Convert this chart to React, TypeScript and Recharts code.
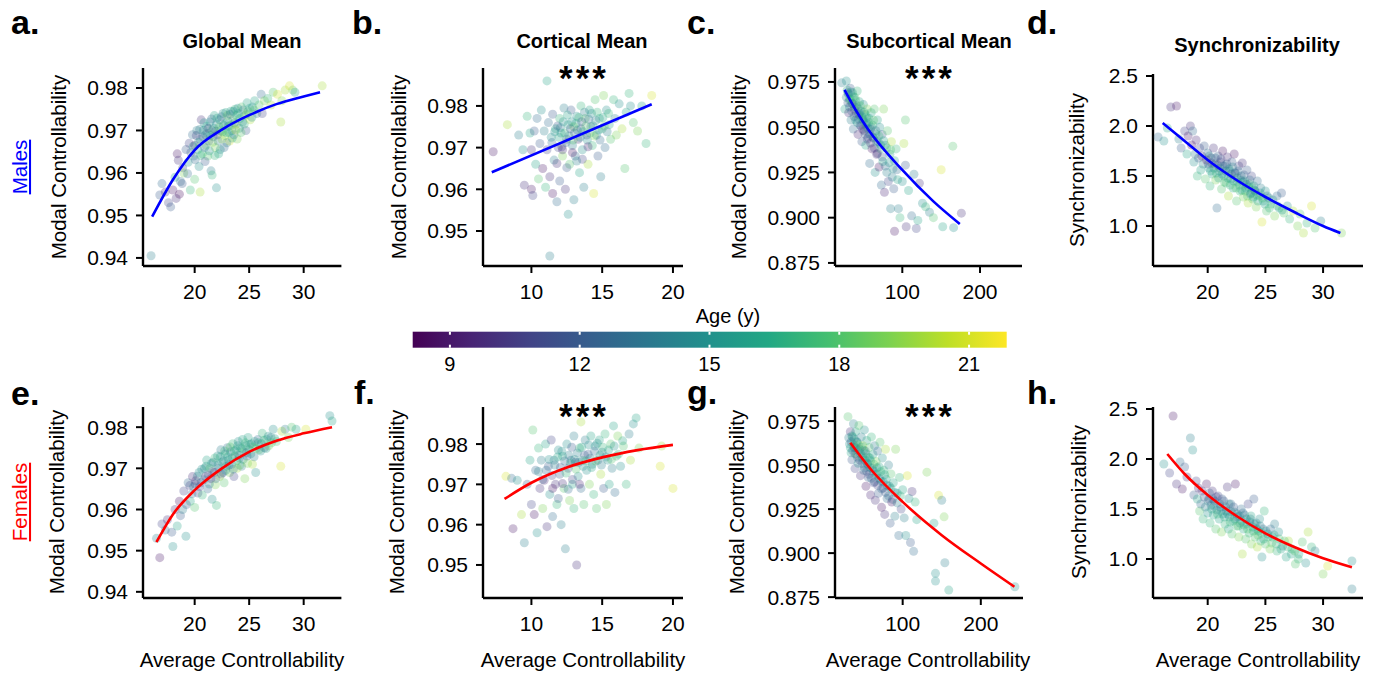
import { ComposedChart, Scatter, XAxis, YAxis } from "recharts";

// [averageControllability, value, age]
type Pt = [number, number, number];
type FitPt = [number, number];

const VIRIDIS = ["#440154", "#482475", "#414487", "#355f8d", "#2a788e", "#21918c", "#22a884", "#44bf70", "#7ad151", "#bddf26", "#fde725"];
const AGE_MIN = 8.14;
const AGE_MAX = 21.87;
const AGE_TICKS = [9, 12, 15, 18, 21];

const FONT = "'Liberation Sans', Arial, Helvetica, sans-serif";

// ---------- Males ----------
const malesGlobal: Pt[] = [
  [16.0, 0.9405, 14], [16.8, 0.9548, 12], [17.0, 0.9575, 13], [17.3, 0.9555, 10], [17.6, 0.953, 11], [17.8, 0.952, 12],
  [18.0, 0.956, 9], [18.2, 0.959, 16], [18.3, 0.954, 10], [18.4, 0.9645, 9], [18.5, 0.963, 10], [18.7, 0.958, 13],
  [18.9, 0.9612, 11], [19.0, 0.96, 19], [18.6, 0.955, 8.5], [19.2, 0.9655, 12], [19.4, 0.9625, 15], [19.5, 0.967, 11],
  [19.6, 0.956, 17], [19.8, 0.969, 13], [19.9, 0.964, 14], [20.0, 0.9665, 9.5], [20.0, 0.9585, 18], [20.2, 0.97, 14],
  [20.3, 0.9655, 16], [20.4, 0.9615, 15], [20.5, 0.968, 12], [20.6, 0.9725, 10], [20.7, 0.9645, 17], [20.8, 0.97, 15],
  [20.9, 0.966, 13], [20.5, 0.9555, 20], [21.0, 0.969, 14], [21.1, 0.971, 16], [21.2, 0.964, 18], [21.3, 0.9675, 12],
  [21.4, 0.972, 15], [21.5, 0.9605, 14], [21.6, 0.97, 17], [21.7, 0.9685, 13], [21.8, 0.9735, 16], [21.9, 0.966, 19],
  [22.0, 0.9715, 15], [22.1, 0.969, 11], [22.2, 0.9645, 16], [22.3, 0.9725, 14], [22.4, 0.97, 18], [22.5, 0.968, 20],
  [22.6, 0.974, 15], [22.7, 0.966, 13], [22.8, 0.9715, 17], [22.9, 0.9695, 16], [22.0, 0.9565, 15], [21.6, 0.9595, 17],
  [23.0, 0.9735, 19], [23.1, 0.971, 14], [23.2, 0.9675, 21], [23.3, 0.9745, 16], [23.4, 0.97, 15], [23.5, 0.9725, 18],
  [23.6, 0.969, 13], [23.7, 0.975, 17], [23.8, 0.9715, 20], [23.9, 0.968, 19], [24.0, 0.974, 16], [24.1, 0.9705, 15],
  [24.3, 0.9755, 18], [24.4, 0.972, 14], [24.6, 0.9735, 17], [24.7, 0.97, 12], [24.8, 0.9765, 16], [24.9, 0.9745, 18],
  [25.1, 0.9725, 20], [25.3, 0.9755, 15], [25.5, 0.977, 16], [25.7, 0.974, 14], [25.9, 0.976, 18], [26.1, 0.9785, 13],
  [26.2, 0.974, 11], [26.4, 0.977, 19], [26.7, 0.9775, 17], [27.0, 0.976, 20], [27.2, 0.979, 18], [27.6, 0.9785, 21],
  [27.9, 0.972, 20], [28.0, 0.977, 19], [28.3, 0.9795, 20], [28.7, 0.9805, 21], [29.0, 0.9795, 19], [29.2, 0.979, 16],
  [31.7, 0.9805, 20],
];
const malesGlobalCore: Pt[] = [
  [19.65, 0.9648, 12], [19.85, 0.9662, 15], [20.05, 0.9631, 13], [20.15, 0.9688, 11], [20.35, 0.9672, 16], [20.45, 0.9702, 14],
  [20.55, 0.9641, 17], [20.75, 0.9685, 13], [20.85, 0.9718, 15], [20.95, 0.9627, 12], [21.05, 0.9665, 18], [21.15, 0.9693, 14],
  [21.25, 0.9705, 11], [21.35, 0.9652, 15], [21.45, 0.9688, 16], [21.55, 0.9727, 13], [21.65, 0.9672, 19], [21.75, 0.9705, 15],
  [21.85, 0.9641, 17], [21.95, 0.9698, 12], [22.05, 0.9729, 16], [22.15, 0.9675, 14], [22.25, 0.9708, 18], [22.35, 0.9655, 15],
  [22.45, 0.9732, 13], [22.55, 0.9697, 17], [22.65, 0.9712, 15], [22.75, 0.9688, 19], [22.85, 0.9742, 16], [22.95, 0.9671, 14],
  [23.05, 0.9722, 15], [23.15, 0.9695, 17], [23.25, 0.9738, 13], [23.35, 0.9712, 18], [23.45, 0.9682, 16], [23.55, 0.9745, 15],
  [23.65, 0.9718, 14], [23.75, 0.9701, 20], [23.85, 0.9735, 17], [23.95, 0.9752, 15], [24.15, 0.9728, 16], [24.25, 0.9695, 18],
  [24.45, 0.9748, 14], [24.55, 0.9715, 17], [24.75, 0.9738, 19], [25.05, 0.9752, 16], [25.25, 0.9731, 15], [25.45, 0.9748, 18],
  [19.35, 0.9598, 13], [18.85, 0.9575, 12],
];
const malesGlobalFit: FitPt[] = [[16.1, 0.9497], [18, 0.9584], [20, 0.9654], [22.5, 0.9702], [25, 0.9736], [27.5, 0.9762], [30, 0.978], [31.5, 0.979]];

const malesCortical: Pt[] = [
  [7.3, 0.969, 9], [8.3, 0.9755, 20], [9.1, 0.973, 14], [9.4, 0.9695, 15], [9.5, 0.961, 10], [9.7, 0.9775, 17], [9.9, 0.9735, 16],
  [10.0, 0.96, 9], [10.0, 0.9695, 10], [10.1, 0.9585, 11], [10.2, 0.974, 12], [10.3, 0.966, 16], [10.4, 0.977, 13], [10.5, 0.9625, 18],
  [10.6, 0.971, 12], [10.7, 0.979, 15], [10.8, 0.965, 9], [10.9, 0.974, 14], [11.0, 0.9605, 17], [11.1, 0.986, 16], [11.1, 0.9695, 11],
  [11.2, 0.976, 13], [11.3, 0.944, 14], [11.3, 0.963, 10], [11.4, 0.9725, 15], [11.5, 0.959, 9], [11.5, 0.978, 12], [11.6, 0.967, 14],
  [11.7, 0.9745, 16], [11.8, 0.957, 13], [11.9, 0.97, 11], [12.0, 0.977, 17], [12.0, 0.962, 12], [12.1, 0.9735, 15], [12.2, 0.968, 19],
  [12.3, 0.9795, 14], [12.4, 0.96, 10], [12.5, 0.972, 13], [12.6, 0.954, 15], [12.6, 0.9755, 16], [12.7, 0.966, 18], [12.8, 0.979, 12],
  [12.9, 0.9705, 14], [13.0, 0.975, 19], [13.0, 0.9575, 14], [13.1, 0.968, 13], [13.2, 0.9775, 15], [13.3, 0.972, 10], [13.4, 0.964, 16],
  [13.5, 0.98, 17], [13.5, 0.9745, 12], [13.6, 0.9695, 15], [13.7, 0.9605, 14], [13.8, 0.977, 18], [13.9, 0.973, 11], [14.0, 0.966, 20],
  [14.1, 0.979, 16], [14.2, 0.975, 13], [14.3, 0.9705, 17], [14.4, 0.959, 21], [14.5, 0.9815, 18], [14.6, 0.973, 15], [14.7, 0.968, 12],
  [14.8, 0.977, 16], [14.9, 0.963, 14], [15.0, 0.9745, 17], [15.1, 0.9825, 19], [15.2, 0.97, 13], [15.3, 0.979, 15], [15.5, 0.9755, 16],
  [15.6, 0.972, 18], [15.8, 0.9815, 17], [15.9, 0.977, 14], [16.0, 0.973, 19], [16.2, 0.9805, 15], [16.4, 0.9745, 20], [16.6, 0.965, 18],
  [16.7, 0.9785, 16], [16.9, 0.983, 17], [17.0, 0.98, 15], [17.2, 0.976, 18], [17.5, 0.974, 19], [17.8, 0.98, 16], [18.1, 0.971, 17],
  [18.5, 0.9825, 21],
];
const malesCorticalCore: Pt[] = [
  [11.45, 0.9712, 13], [11.65, 0.9738, 15], [11.85, 0.9752, 12], [11.95, 0.9725, 16], [12.05, 0.9748, 14], [12.15, 0.9702, 11],
  [12.25, 0.9762, 15], [12.35, 0.9735, 17], [12.45, 0.9712, 13], [12.55, 0.9778, 16], [12.65, 0.9728, 14], [12.75, 0.9745, 12],
  [12.85, 0.9762, 15], [12.95, 0.9718, 18], [13.05, 0.9735, 13], [13.15, 0.9758, 16], [13.25, 0.9742, 14], [13.35, 0.9772, 17],
  [13.45, 0.9725, 15], [13.55, 0.9762, 12], [13.65, 0.9738, 16], [13.75, 0.9785, 14], [13.85, 0.9752, 18], [13.95, 0.9718, 15],
  [14.05, 0.9768, 13], [14.15, 0.9735, 17], [14.25, 0.9782, 15], [14.35, 0.9752, 16], [14.45, 0.9728, 19], [14.55, 0.9765, 14],
  [14.65, 0.9785, 17], [14.75, 0.9742, 15], [14.85, 0.9718, 13], [15.05, 0.9772, 16], [15.15, 0.9752, 18], [15.35, 0.9738, 14],
  [15.45, 0.9782, 17], [12.2, 0.9695, 10], [12.9, 0.9688, 9], [13.6, 0.9672, 11], [11.8, 0.9662, 10], [12.5, 0.9652, 12],
  [13.2, 0.9668, 14], [14.0, 0.9702, 9.5],
];
const malesCorticalFit: FitPt[] = [[7.2, 0.9641], [18.5, 0.9804]];

const malesSubcortical: Pt[] = [
  [22, 0.9745, 14], [26, 0.96, 16], [28, 0.9755, 15], [30, 0.969, 13], [31, 0.958, 10], [32, 0.965, 17], [33, 0.9715, 12], [34, 0.954, 14],
  [35, 0.963, 9], [36, 0.969, 16], [37, 0.949, 13], [38, 0.96, 11], [39, 0.9665, 18], [40, 0.954, 15], [41, 0.962, 12], [42, 0.97, 17],
  [43, 0.946, 9.5], [44, 0.957, 14], [45, 0.964, 16], [46, 0.951, 11], [47, 0.959, 13], [48, 0.942, 12], [49, 0.9545, 17], [50, 0.9625, 15],
  [51, 0.948, 10], [52, 0.957, 18], [53, 0.94, 16], [54, 0.952, 14], [55, 0.96, 19], [56, 0.9445, 12], [57, 0.955, 15], [58, 0.93, 13],
  [59, 0.949, 11], [60, 0.958, 16], [61, 0.938, 9], [62, 0.951, 17], [63, 0.944, 14], [64, 0.96, 18], [65, 0.925, 15], [66, 0.948, 13],
  [67, 0.935, 10], [68, 0.954, 16], [69, 0.942, 14], [70, 0.928, 9], [71, 0.95, 15], [72, 0.938, 17], [73, 0.918, 13], [74, 0.946, 12],
  [75, 0.931, 16], [76, 0.96, 19], [77, 0.914, 9.5], [78, 0.94, 15], [80, 0.925, 14], [81, 0.948, 18], [82, 0.92, 11], [84, 0.935, 16],
  [85, 0.905, 14], [86, 0.942, 20], [88, 0.927, 15], [89, 0.916, 12], [90, 0.8925, 9], [92, 0.938, 17], [94, 0.921, 16], [95, 0.905, 14],
  [97, 0.9, 17], [100, 0.92, 15], [104, 0.954, 18], [102, 0.941, 20], [104, 0.929, 12], [105, 0.895, 10], [108, 0.915, 16], [112, 0.901, 13],
  [115, 0.924, 14], [118, 0.894, 11], [120, 0.8985, 16], [122, 0.919, 10], [126, 0.908, 15], [130, 0.906, 17], [135, 0.903, 14], [140, 0.9, 18],
  [150, 0.9265, 21], [152, 0.895, 16], [165, 0.9395, 18], [166, 0.8945, 15], [176, 0.9025, 10],
];
const malesSubcorticalCore: Pt[] = [
  [28, 0.9665, 14], [29, 0.9705, 16], [30, 0.9635, 12], [31, 0.9682, 15], [32, 0.9612, 13], [33, 0.9655, 17], [34, 0.9695, 14],
  [35, 0.9588, 12], [36, 0.9632, 15], [37, 0.9668, 16], [38, 0.9558, 13], [39, 0.9612, 14], [40, 0.9648, 17], [41, 0.9575, 11],
  [42, 0.9525, 15], [43, 0.9602, 16], [44, 0.9545, 13], [45, 0.9578, 14], [46, 0.9618, 18], [47, 0.9505, 12], [48, 0.9558, 15],
  [49, 0.9488, 10], [50, 0.9535, 14], [51, 0.9582, 16], [52, 0.9462, 12], [53, 0.9512, 15], [54, 0.9555, 17], [55, 0.9435, 11],
  [56, 0.9492, 14], [57, 0.9528, 16], [58, 0.9462, 13], [59, 0.9412, 10], [60, 0.9502, 15], [62, 0.9445, 12], [63, 0.9538, 18],
  [64, 0.9385, 11], [66, 0.9462, 16], [67, 0.9418, 14], [68, 0.9355, 10], [70, 0.9452, 17], [72, 0.9402, 15], [74, 0.9335, 12],
  [76, 0.9425, 16], [78, 0.9285, 13], [80, 0.9385, 17], [83, 0.9305, 15], [85, 0.9375, 18], [87, 0.9225, 14], [90, 0.9315, 16],
  [93, 0.9265, 13],
];
const malesSubcorticalFit: FitPt[] = [[25.6, 0.9706], [40, 0.9595], [55, 0.9494], [100, 0.9264], [140, 0.909], [174, 0.8965]];

const malesSync: Pt[] = [
  [15.7, 1.89, 13], [16.2, 1.85, 15], [16.5, 1.98, 16], [16.8, 2.19, 10], [17.3, 2.2, 9], [17.5, 1.87, 14], [17.7, 1.78, 12], [18.0, 1.95, 11],
  [18.2, 1.72, 16], [18.3, 1.9, 9], [18.5, 2.0, 10], [18.6, 1.81, 8.5], [18.7, 1.95, 13], [18.8, 1.64, 15], [18.9, 1.72, 14], [19.0, 1.86, 9.5],
  [19.1, 1.5, 17], [19.2, 1.68, 12], [19.3, 1.78, 11], [19.4, 1.56, 16], [19.5, 1.7, 10], [19.6, 1.62, 14], [19.7, 1.8, 12], [19.8, 1.47, 18],
  [19.9, 1.66, 9], [20.0, 1.73, 13], [20.1, 1.58, 15], [20.2, 1.4, 17], [20.3, 1.68, 11], [20.4, 1.52, 16], [20.5, 1.78, 10], [20.6, 1.62, 14],
  [20.7, 1.46, 19], [20.8, 1.18, 13], [20.9, 1.7, 12], [21.0, 1.55, 15], [21.1, 1.64, 11], [21.2, 1.37, 18], [21.3, 1.75, 9], [21.4, 1.5, 16],
  [21.5, 1.6, 13], [21.6, 1.43, 17], [21.7, 1.69, 10], [21.8, 1.3, 20], [21.9, 1.55, 14], [22.0, 1.47, 15], [22.1, 1.64, 12], [22.2, 1.38, 16],
  [22.3, 1.72, 9], [22.4, 1.53, 13], [22.5, 1.25, 18], [22.6, 1.44, 15], [22.7, 1.6, 11], [22.8, 1.35, 17], [22.9, 1.5, 14], [23.0, 1.63, 10],
  [23.1, 1.29, 19], [23.2, 1.45, 16], [23.3, 1.38, 15], [23.4, 1.56, 12], [23.5, 1.23, 20], [23.6, 1.42, 17], [23.7, 1.32, 14], [23.8, 1.5, 11],
  [23.9, 1.27, 18], [24.0, 1.4, 16], [24.1, 1.35, 15], [24.2, 1.19, 19], [24.3, 1.45, 13], [24.5, 1.3, 17], [24.6, 1.38, 14], [24.7, 1.04, 21],
  [24.8, 1.25, 16], [25.0, 1.35, 15], [25.1, 1.15, 18], [25.3, 1.28, 14], [25.5, 1.22, 17], [25.8, 1.1, 19], [26.0, 1.3, 13], [26.2, 1.18, 16],
  [26.4, 1.33, 12], [26.6, 1.13, 18], [26.9, 1.2, 15], [27.1, 1.07, 17], [27.4, 1.15, 20], [27.8, 1.0, 19], [28.0, 1.12, 18], [28.3, 0.93, 20],
  [28.6, 1.03, 17], [29.0, 1.2, 21], [29.3, 0.98, 18], [29.8, 1.05, 14], [31.6, 0.93, 19],
];
const malesSyncCore: Pt[] = [
  [20.05, 1.62, 12], [20.15, 1.7, 14], [20.25, 1.55, 16], [20.35, 1.63, 11], [20.55, 1.58, 15], [20.65, 1.68, 13], [20.75, 1.53, 17],
  [20.85, 1.61, 12], [20.95, 1.48, 16], [21.05, 1.58, 14], [21.15, 1.67, 11], [21.25, 1.52, 15], [21.35, 1.6, 13], [21.45, 1.44, 18],
  [21.55, 1.55, 14], [21.65, 1.62, 12], [21.75, 1.48, 16], [21.85, 1.57, 15], [21.95, 1.41, 17], [22.05, 1.52, 13], [22.15, 1.59, 14],
  [22.25, 1.45, 16], [22.35, 1.53, 12], [22.45, 1.38, 18], [22.55, 1.48, 15], [22.65, 1.55, 13], [22.75, 1.41, 17], [22.85, 1.46, 14],
  [22.95, 1.36, 16], [23.05, 1.44, 15], [23.15, 1.51, 12], [23.25, 1.35, 17], [23.35, 1.42, 14], [23.45, 1.3, 18], [23.55, 1.39, 16],
  [23.65, 1.46, 13], [23.75, 1.33, 15], [23.85, 1.38, 17], [23.95, 1.29, 16], [24.05, 1.36, 14], [24.25, 1.31, 17], [24.35, 1.25, 16],
  [24.55, 1.33, 15], [24.75, 1.28, 18], [24.95, 1.22, 16], [25.15, 1.3, 14], [25.35, 1.18, 17], [25.65, 1.26, 15], [26.05, 1.2, 17],
  [26.45, 1.16, 16],
];
const malesSyncFit: FitPt[] = [[16.1, 2.03], [18, 1.85], [20, 1.66], [22.5, 1.46], [25, 1.29], [27.5, 1.14], [30, 1.0], [31.5, 0.93]];

// ---------- Females ----------
const femalesGlobal: Pt[] = [
  [16.5, 0.953, 14], [16.8, 0.9483, 9], [17.0, 0.9565, 11], [17.3, 0.955, 13], [17.5, 0.9575, 10], [17.9, 0.9545, 12], [18.0, 0.951, 15],
  [18.2, 0.96, 10], [18.4, 0.956, 16], [18.6, 0.962, 9], [18.7, 0.9585, 12], [18.9, 0.96, 14], [19.0, 0.9645, 11], [19.2, 0.9535, 15],
  [19.4, 0.9665, 13], [19.6, 0.962, 16], [19.8, 0.968, 10], [19.9, 0.9655, 14], [20.0, 0.9605, 18], [20.1, 0.967, 9.5], [20.3, 0.964, 11],
  [20.4, 0.969, 15], [20.6, 0.9665, 12], [20.7, 0.9635, 17], [20.9, 0.97, 14], [21.0, 0.968, 10], [21.1, 0.972, 16], [21.2, 0.965, 13],
  [21.4, 0.97, 18], [21.5, 0.9675, 9], [21.6, 0.9625, 15], [21.7, 0.9715, 14], [21.8, 0.969, 11], [21.9, 0.966, 19], [22.0, 0.961, 17],
  [22.1, 0.973, 15], [22.2, 0.97, 13], [22.3, 0.968, 20], [22.4, 0.9745, 14], [22.5, 0.9715, 16], [22.6, 0.969, 12], [22.7, 0.9665, 18],
  [22.8, 0.9735, 15], [22.9, 0.9705, 17], [23.0, 0.975, 13], [23.1, 0.972, 16], [23.2, 0.969, 19], [23.3, 0.974, 14], [23.4, 0.971, 15],
  [23.5, 0.976, 17], [23.6, 0.968, 11], [23.7, 0.973, 18], [23.8, 0.9745, 16], [23.9, 0.97, 20], [24.0, 0.9765, 15], [24.1, 0.9725, 13],
  [24.2, 0.975, 17], [24.3, 0.9705, 14], [24.4, 0.977, 16], [24.5, 0.974, 18], [24.6, 0.9675, 19], [24.7, 0.9755, 15], [24.8, 0.973, 12],
  [24.9, 0.9775, 16], [25.0, 0.9745, 17], [25.2, 0.976, 14], [25.3, 0.971, 20], [25.5, 0.9765, 16], [25.6, 0.969, 15], [25.8, 0.977, 13],
  [25.9, 0.9745, 18], [26.1, 0.976, 15], [26.2, 0.9785, 17], [26.4, 0.975, 12], [26.6, 0.977, 16], [26.8, 0.9755, 19], [27.0, 0.9775, 14],
  [27.2, 0.9795, 15], [27.5, 0.9765, 18], [27.9, 0.9705, 21], [28.0, 0.979, 20], [28.3, 0.9795, 14], [28.6, 0.9775, 19], [28.9, 0.98, 18],
  [29.3, 0.9795, 16], [30.2, 0.9795, 21], [32.4, 0.9828, 15], [32.6, 0.9815, 16],
];
const femalesGlobalCore: Pt[] = [
  [20.05, 0.9662, 12], [20.25, 0.9681, 14], [20.45, 0.9655, 11], [20.65, 0.9698, 15], [20.85, 0.9672, 13], [21.05, 0.9705, 16],
  [21.25, 0.9684, 12], [21.35, 0.9662, 14], [21.55, 0.9712, 15], [21.65, 0.9692, 11], [21.85, 0.9725, 17], [21.95, 0.9675, 13],
  [22.15, 0.9708, 15], [22.35, 0.9728, 16], [22.45, 0.9686, 12], [22.65, 0.9718, 14], [22.75, 0.9742, 17], [22.85, 0.9695, 15],
  [23.05, 0.9728, 16], [23.15, 0.9708, 13], [23.25, 0.9752, 18], [23.45, 0.9725, 15], [23.55, 0.9698, 14], [23.65, 0.9742, 16],
  [23.85, 0.9718, 17], [23.95, 0.9755, 15], [24.05, 0.9732, 14], [24.15, 0.9708, 18], [24.35, 0.9748, 16], [24.45, 0.9722, 15],
  [24.65, 0.9762, 17], [24.75, 0.9738, 13], [24.85, 0.9712, 19], [25.05, 0.9758, 16], [25.15, 0.9735, 15], [25.35, 0.9752, 17],
  [25.45, 0.9728, 14], [25.65, 0.9748, 18], [25.85, 0.9762, 16], [26.05, 0.9742, 15], [26.35, 0.9768, 17], [26.55, 0.9748, 16],
  [26.75, 0.9778, 15], [27.05, 0.9762, 18], [27.35, 0.9772, 16], [19.75, 0.9638, 13], [19.55, 0.9658, 11], [19.25, 0.9612, 12],
];
const femalesGlobalFit: FitPt[] = [[16.5, 0.9521], [18, 0.9588], [20, 0.9647], [22.5, 0.97], [25, 0.974], [27.5, 0.9767], [30, 0.9785], [32.6, 0.98]];

const femalesCortical: Pt[] = [
  [8.2, 0.972, 21], [8.6, 0.9715, 13], [8.7, 0.959, 9], [9.0, 0.971, 15], [9.3, 0.9625, 20], [9.5, 0.9555, 14], [9.7, 0.97, 12], [9.9, 0.976, 16],
  [10.0, 0.965, 11], [10.1, 0.9835, 18], [10.2, 0.9625, 9], [10.3, 0.9735, 13], [10.4, 0.958, 15], [10.5, 0.979, 17], [10.6, 0.969, 10],
  [10.7, 0.976, 14], [10.8, 0.964, 19], [10.9, 0.971, 9.5], [11.0, 0.98, 16], [11.1, 0.9595, 10], [11.2, 0.9745, 12], [11.3, 0.9675, 15],
  [11.4, 0.981, 11], [11.5, 0.962, 13], [11.6, 0.976, 14], [11.7, 0.97, 10], [11.8, 0.965, 17], [11.9, 0.9785, 15], [12.0, 0.9725, 12],
  [12.1, 0.96, 14], [12.2, 0.977, 16], [12.3, 0.969, 18], [12.4, 0.954, 14], [12.5, 0.98, 15], [12.6, 0.974, 11], [12.7, 0.966, 19],
  [12.8, 0.976, 13], [12.9, 0.97, 16], [13.0, 0.982, 14], [13.0, 0.964, 17], [13.1, 0.9755, 12], [13.2, 0.95, 10], [13.3, 0.972, 15],
  [13.4, 0.979, 17], [13.5, 0.9855, 20], [13.5, 0.969, 13], [13.6, 0.976, 16], [13.7, 0.965, 18], [13.8, 0.981, 14], [13.9, 0.9735, 15],
  [14.0, 0.9775, 12], [14.1, 0.97, 19], [14.2, 0.982, 16], [14.3, 0.975, 14], [14.4, 0.9675, 17], [14.5, 0.9795, 15], [14.6, 0.964, 18],
  [14.7, 0.976, 13], [14.8, 0.981, 16], [14.9, 0.9725, 20], [15.0, 0.978, 14], [15.1, 0.969, 12], [15.2, 0.9825, 17], [15.3, 0.965, 19],
  [15.4, 0.976, 15], [15.5, 0.97, 16], [15.6, 0.98, 18], [15.7, 0.974, 14], [15.8, 0.9845, 16], [15.9, 0.968, 13], [16.0, 0.977, 17],
  [16.1, 0.982, 19], [16.3, 0.9745, 15], [16.5, 0.9795, 18], [16.7, 0.97, 17], [16.9, 0.9825, 14], [17.0, 0.976, 20], [17.2, 0.985, 15],
  [17.4, 0.9865, 16], [17.6, 0.979, 19], [19.1, 0.9745, 21], [19.2, 0.9795, 20], [20.0, 0.969, 21],
];
const femalesCorticalCore: Pt[] = [
  [11.05, 0.9735, 13], [11.25, 0.9762, 15], [11.45, 0.9722, 11], [11.65, 0.9748, 14], [11.85, 0.9768, 16], [12.05, 0.9742, 12],
  [12.15, 0.9782, 15], [12.35, 0.9758, 13], [12.45, 0.9728, 17], [12.65, 0.9772, 14], [12.75, 0.9752, 16], [12.85, 0.9792, 12],
  [13.05, 0.9762, 15], [13.15, 0.9738, 18], [13.25, 0.9778, 14], [13.35, 0.9755, 13], [13.55, 0.9792, 16], [13.65, 0.9745, 15],
  [13.75, 0.9772, 12], [13.85, 0.9758, 17], [14.05, 0.9798, 15], [14.15, 0.9765, 14], [14.25, 0.9742, 16], [14.45, 0.9782, 13],
  [14.55, 0.9758, 18], [14.65, 0.9802, 15], [14.85, 0.9772, 16], [14.95, 0.9748, 14], [15.05, 0.9792, 17], [15.25, 0.9768, 15],
  [15.45, 0.9785, 16], [15.65, 0.9762, 18], [15.85, 0.9795, 15], [16.15, 0.9775, 17], [16.45, 0.9808, 16], [11.5, 0.969, 9],
  [12.2, 0.9702, 10], [12.9, 0.9712, 11], [13.4, 0.97, 9.5], [11.9, 0.9665, 12], [12.6, 0.9688, 13], [10.8, 0.9712, 12],
  [10.5, 0.9732, 14],
];
const femalesCorticalFit: FitPt[] = [[8.1, 0.9664], [10, 0.9704], [12.5, 0.9742], [15, 0.9767], [17.5, 0.9785], [20, 0.9798]];

const femalesSubcortical: Pt[] = [
  [30, 0.9775, 18], [32, 0.962, 15], [33, 0.969, 10], [34, 0.957, 16], [35, 0.953, 12], [36, 0.966, 17], [37, 0.9735, 14], [38, 0.96, 9],
  [39, 0.948, 11], [40, 0.969, 16], [41, 0.956, 19], [42, 0.963, 13], [43, 0.951, 15], [44, 0.9725, 18], [45, 0.959, 12], [46, 0.944, 10],
  [47, 0.966, 14], [48, 0.954, 17], [49, 0.961, 20], [50, 0.947, 13], [51, 0.97, 15], [52, 0.958, 11], [53, 0.938, 9], [54, 0.964, 16],
  [55, 0.951, 14], [56, 0.943, 12], [57, 0.96, 18], [58, 0.954, 15], [59, 0.933, 9.5], [60, 0.966, 17], [61, 0.948, 13], [62, 0.956, 16],
  [63, 0.94, 11], [64, 0.961, 14], [65, 0.93, 10], [66, 0.952, 19], [67, 0.945, 15], [68, 0.958, 13], [69, 0.934, 12], [70, 0.949, 16],
  [71, 0.963, 18], [72, 0.941, 14], [73, 0.926, 9], [74, 0.954, 15], [75, 0.937, 11], [76, 0.947, 17], [77, 0.922, 10], [78, 0.959, 20],
  [79, 0.942, 16], [80, 0.931, 13], [82, 0.95, 14], [83, 0.938, 15], [84, 0.917, 12], [85, 0.945, 18], [86, 0.929, 9], [88, 0.94, 16],
  [90, 0.921, 14], [91, 0.959, 19], [93, 0.934, 15], [95, 0.91, 13], [96, 0.943, 17], [98, 0.925, 11], [100, 0.936, 16], [102, 0.92, 14],
  [104, 0.91, 15], [106, 0.944, 21], [108, 0.931, 15], [110, 0.906, 12], [112, 0.935, 10], [114, 0.901, 13], [116, 0.929, 17], [118, 0.919, 16],
  [131, 0.946, 19], [146, 0.9328, 21], [150, 0.93, 14], [153, 0.9206, 19], [140, 0.917, 16], [142, 0.8885, 15], [142, 0.8841, 15],
  [154, 0.8945, 14], [159, 0.879, 16], [243.6, 0.8809, 15],
];
const femalesSubcorticalCore: Pt[] = [
  [31, 0.9655, 14], [33, 0.9598, 16], [34, 0.9632, 12], [35, 0.9665, 15], [36, 0.9582, 13], [37, 0.9615, 17], [38, 0.9648, 14],
  [39, 0.9565, 12], [40, 0.9598, 15], [41, 0.9632, 16], [42, 0.9545, 13], [43, 0.9585, 14], [44, 0.9615, 18], [45, 0.9528, 11],
  [46, 0.9565, 15], [47, 0.9602, 16], [48, 0.9508, 12], [49, 0.9548, 14], [50, 0.9585, 17], [51, 0.9485, 13], [52, 0.9528, 15],
  [53, 0.9565, 16], [54, 0.9465, 12], [55, 0.9505, 14], [56, 0.9545, 17], [57, 0.9448, 11], [58, 0.9488, 15], [59, 0.9525, 16],
  [60, 0.9425, 13], [62, 0.9468, 14], [63, 0.9505, 18], [64, 0.9405, 12], [66, 0.9445, 15], [67, 0.9485, 16], [68, 0.9385, 11],
  [70, 0.9425, 14], [72, 0.9462, 17], [73, 0.9365, 13], [75, 0.9405, 15], [77, 0.9445, 16], [78, 0.9345, 12], [80, 0.9385, 14],
  [82, 0.9325, 13], [85, 0.9368, 16], [87, 0.9305, 12], [90, 0.9345, 15], [93, 0.9285, 14], [97, 0.9325, 17],
];
const femalesSubcorticalFit: FitPt[] = [[33, 0.9627], [60, 0.9472], [100, 0.9291], [150, 0.9102], [200, 0.8941], [243, 0.8809]];

const femalesSync: Pt[] = [
  [16.2, 1.95, 15], [16.7, 1.86, 11], [17.0, 2.43, 9], [17.3, 1.75, 10], [17.6, 1.97, 13], [17.8, 1.7, 9], [18.0, 1.92, 12], [18.2, 1.82, 10],
  [18.5, 2.21, 14], [18.7, 2.09, 15], [18.8, 1.64, 12], [19.0, 1.78, 11], [19.1, 1.6, 16], [19.2, 1.71, 9.5], [19.3, 1.48, 18], [19.4, 1.55, 13],
  [19.5, 1.68, 10], [19.6, 1.4, 17], [19.7, 1.62, 12], [19.8, 1.52, 14], [19.9, 1.75, 9], [20.0, 1.46, 15], [20.1, 1.6, 11], [20.2, 1.36, 17],
  [20.3, 1.54, 13], [20.4, 1.68, 10], [20.5, 1.44, 16], [20.6, 1.58, 12], [20.7, 1.3, 18], [20.8, 1.49, 14], [20.9, 1.63, 11], [21.0, 1.4, 16],
  [21.1, 1.52, 13], [21.2, 1.27, 19], [21.3, 1.45, 15], [21.4, 1.58, 12], [21.5, 1.35, 17], [21.6, 1.48, 14], [21.7, 1.72, 10], [21.8, 1.3, 16],
  [21.9, 1.42, 15], [22.0, 1.55, 13], [22.1, 1.25, 18], [22.2, 1.38, 16], [22.3, 1.47, 14], [22.4, 1.75, 9], [22.5, 1.33, 17], [22.6, 1.42, 12],
  [22.7, 1.22, 19], [22.8, 1.36, 15], [22.9, 1.5, 13], [23.0, 1.05, 20], [23.1, 1.3, 16], [23.2, 1.44, 14], [23.3, 1.2, 18], [23.4, 1.35, 15],
  [23.5, 1.55, 11], [23.6, 1.26, 17], [23.7, 1.4, 14], [23.8, 1.15, 19], [23.9, 1.32, 16], [24.0, 1.6, 12], [24.1, 1.22, 18], [24.2, 1.36, 14],
  [24.3, 1.12, 20], [24.4, 1.28, 16], [24.5, 1.4, 15], [24.6, 1.18, 17], [24.7, 1.02, 15], [24.8, 1.3, 13], [24.9, 1.48, 17], [25.0, 1.15, 18],
  [25.2, 1.25, 15], [25.4, 1.1, 19], [25.6, 1.22, 16], [25.8, 1.35, 14], [26.0, 1.08, 17], [26.2, 1.2, 18], [26.5, 1.13, 15], [26.8, 1.02, 16],
  [27.0, 1.18, 20], [27.3, 1.1, 17], [27.6, 0.95, 18], [27.9, 1.05, 16], [28.2, 1.17, 18], [28.5, 0.96, 15], [28.7, 1.27, 20], [29.0, 1.12, 17],
  [29.3, 1.08, 14], [30.0, 0.85, 19], [30.4, 0.93, 21], [32.5, 0.98, 15], [32.5, 0.7, 14],
];
const femalesSyncCore: Pt[] = [
  [20.05, 1.58, 14], [20.15, 1.66, 12], [20.35, 1.5, 16], [20.45, 1.6, 13], [20.55, 1.53, 15], [20.75, 1.62, 11], [20.85, 1.45, 17],
  [21.05, 1.55, 14], [21.15, 1.48, 15], [21.25, 1.6, 12], [21.45, 1.42, 16], [21.55, 1.52, 13], [21.75, 1.45, 15], [21.85, 1.55, 14],
  [21.95, 1.37, 17], [22.05, 1.47, 15], [22.25, 1.52, 12], [22.35, 1.4, 16], [22.55, 1.45, 14], [22.65, 1.33, 18], [22.75, 1.43, 15],
  [22.95, 1.38, 16], [23.05, 1.46, 13], [23.15, 1.34, 17], [23.35, 1.4, 15], [23.45, 1.3, 18], [23.65, 1.37, 14], [23.75, 1.43, 16],
  [23.95, 1.28, 17], [24.05, 1.35, 15], [24.25, 1.3, 16], [24.35, 1.24, 18], [24.55, 1.33, 14], [24.65, 1.26, 17], [24.85, 1.2, 16],
  [25.05, 1.28, 15], [25.25, 1.22, 17], [25.45, 1.3, 13], [25.55, 1.16, 18], [25.75, 1.24, 16], [25.95, 1.15, 17], [26.15, 1.27, 15],
  [26.35, 1.1, 16], [26.65, 1.18, 18], [26.95, 1.12, 17], [27.25, 1.05, 16], [27.55, 1.08, 18], [27.85, 1.0, 17],
];
const femalesSyncFit: FitPt[] = [[16.5, 2.05], [18, 1.85], [20, 1.64], [22.5, 1.43], [25, 1.257], [27.5, 1.12], [30, 1.007], [32.5, 0.917]];

function viridis(age: number) {
  const t = Math.min(1, Math.max(0, (age - AGE_MIN) / (AGE_MAX - AGE_MIN)));
  const pos = t * (VIRIDIS.length - 1);
  const i = Math.min(VIRIDIS.length - 2, Math.floor(pos));
  const f = pos - i;
  const a = VIRIDIS[i], b = VIRIDIS[i + 1];
  const ch = (s: string, k: number) => parseInt(s.slice(1 + k * 2, 3 + k * 2), 16);
  const c = [0, 1, 2].map((k) => Math.round(ch(a, k) + (ch(b, k) - ch(a, k)) * f));
  return `rgb(${c[0]},${c[1]},${c[2]})`;
}

type PanelProps = {
  left: number;
  top: number;
  w: number;
  h: number;
  xDomain: [number, number];
  xTicks: number[];
  yDomain: [number, number];
  yTicks: number[];
  yDigits: number;
  points: Pt[];
  fit: FitPt[];
  color: string;
};

const PAD_L = 100;
const PAD_T = 12;
const PAD_R = 24;
const PAD_B = 50;

const tickStyle = { fill: "#000", fontSize: 21, fontFamily: FONT };

const Panel = ({ left, top, w, h, xDomain, xTicks, yDomain, yTicks, yDigits, points, fit, color }: PanelProps) => {
  const pts = points.map(([x, y, age]) => ({ x, y, age }));
  const line = fit.map(([x, y]) => ({ x, y }));
  return (
    <div style={{ position: "absolute", left: left - PAD_L, top: top - PAD_T }}>
      <ComposedChart
        width={w + PAD_L + PAD_R}
        height={h + PAD_T + PAD_B}
        margin={{ top: PAD_T, right: PAD_R, bottom: 0, left: 0 }}
      >
        <XAxis
          type="number"
          dataKey="x"
          domain={xDomain}
          ticks={xTicks}
          allowDataOverflow
          height={PAD_B}
          tick={tickStyle}
          tickSize={7}
          tickMargin={11}
          axisLine={{ stroke: "#000", strokeWidth: 2.4 }}
          tickLine={{ stroke: "#000", strokeWidth: 2 }}
        />
        <YAxis
          type="number"
          dataKey="y"
          domain={yDomain}
          ticks={yTicks}
          allowDataOverflow
          width={PAD_L}
          tick={tickStyle}
          tickSize={7}
          tickMargin={8}
          tickFormatter={(v: number) => v.toFixed(yDigits)}
          axisLine={{ stroke: "#000", strokeWidth: 2.4 }}
          tickLine={{ stroke: "#000", strokeWidth: 2 }}
        />
        <Scatter
          data={pts}
          isAnimationActive={false}
          shape={(p: any) => (
            <circle cx={p.cx} cy={p.cy} r={4.5} fill={viridis(p.payload.age)} fillOpacity={0.28} />
          )}
        />
        {/* fit curve, drawn after the points so it sits on top */}
        <Scatter
          data={line}
          fill={color}
          line={{ stroke: color, strokeWidth: 2.6 }}
          lineJointType="monotoneX"
          shape={() => <g />}
          isAnimationActive={false}
        />
      </ComposedChart>
    </div>
  );
};

const MODAL = "Modal Controllability";
const SYNC = "Synchronizability";
const AVG = "Average Controllability";

const TOP_Y = 68;
const BOT_Y = 407;

export default function App() {
  const cbLeft = 412.7;
  const cbRight = 1006.7;
  const cbX = (age: number) => cbLeft + ((age - AGE_MIN) / (AGE_MAX - AGE_MIN)) * (cbRight - cbLeft);
  const yLab = (x: number, y: number, s: string, fill = "#000", underline = false) => (
    <text
      x={x}
      y={y}
      transform={`rotate(-90 ${x} ${y})`}
      textAnchor="middle"
      fontSize={20.5}
      fill={fill}
      textDecoration={underline ? "underline" : undefined}
    >
      {s}
    </text>
  );
  return (
    <div style={{ position: "absolute", left: 0, top: 0, width: 1382, height: 674, background: "#fff", fontFamily: FONT }}>
      <Panel left={143.3} top={TOP_Y} w={198.4} h={198} xDomain={[15.26, 33.46]} xTicks={[20, 25, 30]} yDomain={[0.9381, 0.9847]} yTicks={[0.94, 0.95, 0.96, 0.97, 0.98]} yDigits={2} points={[...malesGlobal, ...malesGlobalCore]} fit={malesGlobalFit} color="#0000ff" />
      <Panel left={483.3} top={TOP_Y} w={200} h={198} xDomain={[6.58, 20.71]} xTicks={[10, 15, 20]} yDomain={[0.9416, 0.9891]} yTicks={[0.95, 0.96, 0.97, 0.98]} yDigits={2} points={[...malesCortical, ...malesCorticalCore]} fit={malesCorticalFit} color="#0000ff" />
      <Panel left={835} top={TOP_Y} w={187} h={198} xDomain={[13.4, 254]} xTicks={[100, 200]} yDomain={[0.8733, 0.9827]} yTicks={[0.875, 0.9, 0.925, 0.95, 0.975]} yDigits={3} points={[...malesSubcortical, ...malesSubcorticalCore]} fit={malesSubcorticalFit} color="#0000ff" />
      <Panel left={1153.3} top={74} w={210} h={192} xDomain={[15.26, 33.46]} xTicks={[20, 25, 30]} yDomain={[0.6, 2.52]} yTicks={[1, 1.5, 2, 2.5]} yDigits={1} points={[...malesSync, ...malesSyncCore]} fit={malesSyncFit} color="#0000ff" />

      <Panel left={143.3} top={BOT_Y} w={198.4} h={191} xDomain={[15.26, 33.46]} xTicks={[20, 25, 30]} yDomain={[0.9385, 0.9849]} yTicks={[0.94, 0.95, 0.96, 0.97, 0.98]} yDigits={2} points={[...femalesGlobal, ...femalesGlobalCore]} fit={femalesGlobalFit} color="#ff0000" />
      <Panel left={483.3} top={BOT_Y} w={200} h={191} xDomain={[6.58, 20.71]} xTicks={[10, 15, 20]} yDomain={[0.9418, 0.9892]} yTicks={[0.95, 0.96, 0.97, 0.98]} yDigits={2} points={[...femalesCortical, ...femalesCorticalCore]} fit={femalesCorticalFit} color="#ff0000" />
      <Panel left={835} top={BOT_Y} w={188} h={191} xDomain={[13.4, 254]} xTicks={[100, 200]} yDomain={[0.8745, 0.983]} yTicks={[0.875, 0.9, 0.925, 0.95, 0.975]} yDigits={3} points={[...femalesSubcortical, ...femalesSubcorticalCore]} fit={femalesSubcorticalFit} color="#ff0000" />
      <Panel left={1153.3} top={BOT_Y} w={210} h={191} xDomain={[15.26, 33.46]} xTicks={[20, 25, 30]} yDomain={[0.61, 2.52]} yTicks={[1, 1.5, 2, 2.5]} yDigits={1} points={[...femalesSync, ...femalesSyncCore]} fit={femalesSyncFit} color="#ff0000" />

      <svg width={1382} height={674} style={{ position: "absolute", left: 0, top: 0, pointerEvents: "none" }} fontFamily={FONT}>
        <defs>
          <linearGradient id="viridis" x1="0" x2="1" y1="0" y2="0">
            {VIRIDIS.map((c, i) => (
              <stop key={c} offset={`${(i / (VIRIDIS.length - 1)) * 100}%`} stopColor={c} />
            ))}
          </linearGradient>
        </defs>

        <g fontSize={34} fontWeight="bold" fill="#000">
          <text x={11} y={34}>a.</text>
          <text x={352} y={34}>b.</text>
          <text x={687} y={34}>c.</text>
          <text x={1027} y={34}>d.</text>
          <text x={11} y={405}>e.</text>
          <text x={354} y={404}>f.</text>
          <text x={687} y={404}>g.</text>
          <text x={1027} y={404}>h.</text>
        </g>

        <g fontSize={20} fontWeight="bold" fill="#000" textAnchor="middle">
          <text x={242} y={48}>Global Mean</text>
          <text x={582} y={48}>Cortical Mean</text>
          <text x={929} y={48}>Subcortical Mean</text>
          <text x={1257} y={52}>Synchronizability</text>
        </g>

        <g fontSize={35} fontWeight="bold" fill="#000" textAnchor="middle" letterSpacing={3}>
          <text x={584} y={90}>***</text>
          <text x={930} y={90}>***</text>
          <text x={584} y={428}>***</text>
          <text x={930} y={428}>***</text>
        </g>

        {yLab(66, 167, MODAL)}
        {yLab(406, 167, MODAL)}
        {yLab(746, 167, MODAL)}
        {yLab(1084, 170, SYNC)}
        {yLab(64, 502, MODAL)}
        {yLab(404, 502, MODAL)}
        {yLab(744, 502, MODAL)}
        {yLab(1086, 502, SYNC)}
        {yLab(27, 167, "Males", "#0000ff", true)}
        {yLab(27, 502, "Females", "#ff0000", true)}

        <g fontSize={20.5} fill="#000" textAnchor="middle">
          <text x={242} y={667}>{AVG}</text>
          <text x={583} y={667}>{AVG}</text>
          <text x={928} y={667}>{AVG}</text>
          <text x={1258} y={667}>{AVG}</text>
        </g>

        <text x={728} y={323} fontSize={20} textAnchor="middle" fill="#000">Age (y)</text>
        <rect x={cbLeft} y={331.7} width={cbRight - cbLeft} height={16} fill="url(#viridis)" />
        {AGE_TICKS.map((t) => (
          <g key={t}>
            <rect x={cbX(t) - 1} y={331.7} width={2} height={3} fill="#fff" />
            <rect x={cbX(t) - 1} y={344.7} width={2} height={3} fill="#fff" />
            <text x={cbX(t)} y={371} fontSize={20} textAnchor="middle" fill="#000">{t}</text>
          </g>
        ))}
      </svg>
    </div>
  );
}
